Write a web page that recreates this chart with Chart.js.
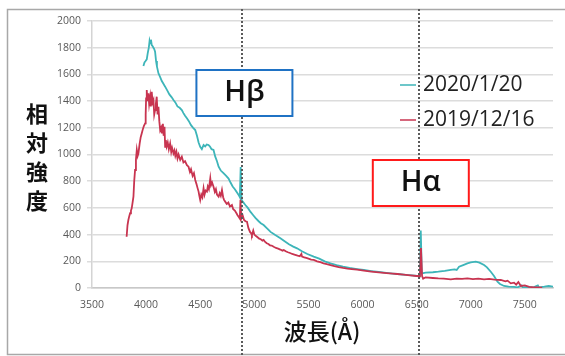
<!DOCTYPE html>
<html>
<head>
<meta charset="utf-8">
<script src="https://cdn.jsdelivr.net/npm/chart.js@4/dist/chart.umd.min.js"></script>
<style>
  html, body { margin: 0; padding: 0; background: #ffffff; }
  #wrap { width: 565px; height: 356px; position: relative; }
</style>
</head>
<body>
<div id="wrap"><canvas id="spectrum" width="565" height="356"></canvas></div>
<script>
// Spectrum observed on 2020/1/20 (wavelength in Å, relative intensity)
const waveNew = [3975,3985,3995,4006,4015,4025,4032,4037,4045,4052,4059,4068,4075,4083,4092,4100,4114,4130,4145,4160,4176,4195,4215,4235,4253,4270,4290,4310,4330,4345,4360,4377,4395,4415,4435,4454,4470,4485,4500,4515,4531,4546,4560,4577,4590,4605,4623,4639,4655,4670,4690,4715,4740,4762,4780,4800,4820,4840,4855,4866,4874,4882,4895,4917,4940,4965,4990,5010,5040,5060,5086,5120,5150,5190,5241,5280,5320,5360,5395,5440,5490,5549,5600,5650,5704,5760,5820,5880,5950,6012,6080,6150,6220,6280,6321,6400,6460,6506,6530,6538,6548,6583,6650,6700,6760,6815,6850,6870,6892,6930,6969,7000,7046,7080,7123,7150,7185,7215,7247,7270,7308,7350,7400,7432,7470,7480,7530,7580,7620,7630,7680,7720,7760];
const fluxNew = [1663,1690,1700,1713,1760,1800,1850,1833,1860,1820,1813,1800,1790,1770,1700,1660,1608,1580,1550,1530,1508,1480,1450,1430,1408,1390,1360,1350,1333,1310,1290,1271,1250,1220,1200,1183,1140,1090,1058,1040,1071,1060,1075,1071,1060,1040,1034,984,950,909,880,860,840,820,790,760,740,715,697,680,906,660,645,622,600,570,545,525,500,485,472,445,420,398,372,350,328,310,297,275,255,235,220,200,185,172,160,150,142,135,127,120,113,108,105,99,94,90,88,430,110,115,118,122,128,135,140,135,160,172,185,192,197,190,172,155,122,90,47,30,15,10,8,5,20,5,8,5,20,5,10,15,10];

// Spectrum observed on 2019/12/16
const waveOld = [3820,3828,3836,3845,3852,3860,3867,3875,3883,3890,3898,3906,3914,3922,3929,3940,3950,3960,3970,3980,3991,3996,4000,4006,4012,4021,4028,4037,4044,4052,4060,4068,4075,4083,4090,4098,4106,4114,4122,4130,4138,4145,4155,4162,4170,4176,4182,4190,4200,4210,4222,4232,4240,4253,4262,4270,4280,4290,4300,4315,4330,4345,4360,4377,4392,4405,4415,4430,4442,4454,4465,4475,4485,4492,4500,4510,4520,4531,4540,4550,4562,4570,4580,4593,4600,4610,4623,4635,4645,4655,4670,4680,4690,4701,4712,4720,4731,4745,4760,4775,4793,4805,4820,4835,4845,4855,4866,4872,4880,4892,4905,4918,4932,4945,4960,4970,4978,4990,5000,5015,5030,5045,5060,5075,5086,5100,5115,5130,5145,5160,5179,5200,5220,5240,5260,5272,5290,5310,5330,5350,5370,5400,5420,5435,5441,5460,5480,5500,5525,5549,5580,5610,5640,5670,5704,5740,5780,5820,5860,5900,5950,6012,6080,6150,6220,6280,6321,6380,6440,6500,6530,6540,6550,6560,6583,6650,6700,6750,6815,6870,6920,6969,7020,7070,7123,7170,7220,7277,7320,7340,7370,7400,7420,7440,7463,7500,7540,7586,7620,7660];
const fluxOld = [384,470,509,540,560,580,597,640,684,800,884,960,1034,990,1009,1080,1130,1159,1190,1215,1233,1300,1420,1483,1400,1458,1380,1433,1360,1470,1390,1408,1300,1333,1380,1433,1300,1358,1250,1183,1200,1159,1230,1140,1208,1058,1108,1060,1090,1040,1083,1020,1050,1009,1030,990,1020,970,1000,960,984,940,950,920,909,870,890,840,860,809,780,750,722,690,659,700,680,747,700,730,722,760,740,822,770,790,759,720,740,700,684,710,690,734,680,660,647,630,640,610,622,590,580,560,545,534,520,660,520,545,510,500,497,450,420,410,397,430,400,390,380,370,365,355,360,345,335,330,320,318,309,300,295,288,280,285,275,268,262,255,250,242,238,255,235,230,225,220,213,210,200,193,185,178,172,164,156,150,145,142,137,130,123,117,112,108,105,100,95,90,88,300,90,70,80,75,72,70,65,70,68,72,66,70,65,68,62,60,50,55,35,40,25,45,15,20,8,5,5,3];

const seriesLabels = ['2020/1/20', '2019/12/16'];
const seriesColors = ['#3db5b9', '#c83450'];

// Balmer lines marked on the plot
const lineNames = ['Hβ', 'Hα'];
const lineWaves = [4890, 6520];
const lineColors = ['#1f72c4', '#ff1a1a'];

const yTicks = [0, 200, 400, 600, 800, 1000, 1200, 1400, 1600, 1800, 2000];
const xTicks = [3500, 4000, 4500, 5000, 5500, 6000, 6500, 7000, 7500];

function toPoints(xs, ys) { return xs.map((x, i) => ({ x: x, y: ys[i] })); }

// Outer frame, dotted marker lines, labelled boxes, legend and axis titles
const decorations = {
  id: 'decorations',
  afterDatasetsDraw(chart) {
    const ctx = chart.ctx;
    const xs = chart.scales.x;
    ctx.save();

    // frame
    ctx.strokeStyle = '#a8a8a8';
    ctx.lineWidth = 1.5;
    ctx.beginPath();
    ctx.moveTo(565, 9.5); ctx.lineTo(7.5, 9.5); ctx.lineTo(7.5, 354.5); ctx.lineTo(565, 354.5);
    ctx.stroke();

    // dotted vertical lines
    ctx.strokeStyle = '#5a5a5a';
    ctx.lineWidth = 2;
    ctx.setLineDash([2, 2]);
    lineWaves.forEach(w => {
      const px = Math.round(xs.getPixelForValue(w));
      ctx.beginPath();
      ctx.moveTo(px, 9);
      ctx.lineTo(px, 356);
      ctx.stroke();
    });
    ctx.setLineDash([]);

    // boxes
    const boxTops = [70, 160];
    lineNames.forEach((name, i) => {
      const cx = xs.getPixelForValue(lineWaves[i]) + 2;
      const bx = cx - 48, by = boxTops[i], bw = 96, bh = 46;
      ctx.fillStyle = '#ffffff';
      ctx.fillRect(bx, by, bw, bh);
      ctx.strokeStyle = lineColors[i];
      ctx.lineWidth = 2;
      ctx.strokeRect(bx, by, bw, bh);
      ctx.fillStyle = '#111111';
      ctx.font = '600 29px "Open Sans", sans-serif';
      ctx.textAlign = 'center';
      ctx.textBaseline = 'alphabetic';
      ctx.fillText(name, cx, by + 31);
    });

    // legend
    const legendY = [85, 120];
    ctx.font = '21px "Open Sans", sans-serif';
    ctx.textAlign = 'left';
    ctx.textBaseline = 'middle';
    seriesLabels.forEach((lab, i) => {
      ctx.strokeStyle = seriesColors[i];
      ctx.lineWidth = 1.5;
      ctx.beginPath();
      ctx.moveTo(400, legendY[i]);
      ctx.lineTo(416, legendY[i]);
      ctx.stroke();
      ctx.fillStyle = '#222222';
      ctx.fillText(lab, 423, legendY[i]);
    });

    // axis titles
    ctx.fillStyle = '#111111';
    ctx.textAlign = 'center';
    ctx.textBaseline = 'middle';
    ctx.font = '700 22px "Noto Sans CJK JP", sans-serif';
    const yTitle = ['相', '対', '強', '度'];
    yTitle.forEach((ch, i) => ctx.fillText(ch, 37, 114 + i * 29));
    ctx.font = '500 23px "Noto Sans CJK JP", sans-serif';
    ctx.fillText('波長(Å)', 322, 331);

    ctx.restore();
  }
};

new Chart(document.getElementById('spectrum'), {
  type: 'scatter',
  data: {
    datasets: [
      {
        label: seriesLabels[1],
        data: toPoints(waveOld, fluxOld),
        showLine: true,
        borderColor: seriesColors[1],
        borderWidth: 1.8,
        pointRadius: 0,
        tension: 0,
        order: 0
      },
      {
        label: seriesLabels[0],
        data: toPoints(waveNew, fluxNew),
        showLine: true,
        borderColor: seriesColors[0],
        borderWidth: 1.8,
        pointRadius: 0,
        tension: 0,
        order: 1
      }
    ]
  },
  options: {
    responsive: false,
    animation: false,
    layout: { padding: { top: 21, right: 12, left: 0, bottom: 0 } },
    plugins: { legend: { display: false }, tooltip: { enabled: false } },
    scales: {
      x: {
        type: 'linear',
        min: 3500,
        max: 7760,
        afterFit(scale) { scale.height = 68; },
        afterBuildTicks(scale) { scale.ticks = xTicks.map(v => ({ value: v })); },
        grid: { display: false, drawTicks: false },
        border: { display: true, color: '#c8c8c8', width: 1.5 },
        ticks: {
          padding: 11,
          color: '#595959',
          font: { family: 'Open Sans', size: 10.5 },
          maxRotation: 0,
          callback: v => String(v)
        }
      },
      y: {
        type: 'linear',
        min: 0,
        max: 2000,
        afterFit(scale) { scale.width = 92; },
        afterBuildTicks(scale) { scale.ticks = yTicks.map(v => ({ value: v })); },
        grid: { color: '#dcdcdc', lineWidth: 1.5, drawTicks: true, tickLength: 5 },
        border: { display: true, color: '#d4d4d4', width: 1.5 },
        ticks: {
          padding: 6,
          color: '#595959',
          font: { family: 'Open Sans', size: 10.5 },
          callback: v => String(v)
        }
      }
    }
  },
  plugins: [decorations]
});
</script>
</body>
</html>
